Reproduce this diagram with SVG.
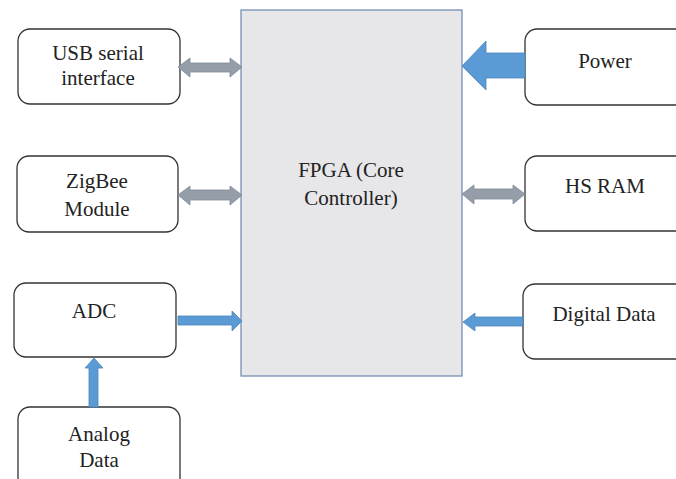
<svg xmlns="http://www.w3.org/2000/svg" width="676" height="479" viewBox="0 0 676 479">
<style>
.box{fill:#fff;stroke:#333;stroke-width:1.3}
.core{fill:#e7e6e8;stroke:#7390b3;stroke-width:1.3}
.t{font-size:21px;fill:#222;text-anchor:middle}
.blue{fill:#5b9bd5;stroke:#4a86bd;stroke-width:0.8}
.gray{fill:#959ea8;stroke:#7f8b97;stroke-width:0.8}
</style>
<rect width="676" height="479" fill="#fff"/>
<g font-family="Liberation Serif, DejaVu Serif, serif">
<g id="fpga">
<rect class="core" x="241" y="10" width="221" height="366"/>
<text class="t" x="351" y="177">FPGA (Core</text>
<text class="t" x="351" y="205">Controller)</text>
</g>
<g id="usb">
<rect class="box" x="18" y="29" width="162" height="75" rx="12"/>
<text class="t" x="98" y="60">USB serial</text>
<text class="t" x="98" y="85">interface</text>
</g>
<g id="zigbee">
<rect class="box" x="17" y="156" width="161" height="76" rx="12"/>
<text class="t" x="97" y="188">ZigBee</text>
<text class="t" x="97" y="216">Module</text>
</g>
<g id="adc">
<rect class="box" x="14" y="283" width="162" height="74" rx="12"/>
<text class="t" x="94" y="318">ADC</text>
</g>
<g id="analog">
<rect class="box" x="18" y="407" width="162" height="85" rx="12"/>
<text class="t" x="99" y="441">Analog</text>
<text class="t" x="99" y="467">Data</text>
</g>
<g id="power">
<rect class="box" x="525" y="29" width="170" height="76" rx="12"/>
<text class="t" x="605" y="68">Power</text>
</g>
<g id="hsram">
<rect class="box" x="525" y="156" width="170" height="75" rx="12"/>
<text class="t" x="605" y="193">HS RAM</text>
</g>
<g id="digital">
<rect class="box" x="523" y="284" width="170" height="75" rx="12"/>
<text class="t" x="604" y="321">Digital Data</text>
</g>
</g>
<g id="connectors">
<polygon class="gray" points="178,67 190,58 190,63 230,63 230,58 242,67 230,77 230,72 190,72 190,77"/>
<polygon class="gray" points="178,195 190,186 190,190 230,190 230,186 242,195 230,205 230,200 190,200 190,205"/>
<polygon class="gray" points="462,194 474,185 474,189 513,189 513,185 525,194 513,204 513,199 474,199 474,204"/>
<polygon class="blue" points="462,66 486,41 486,53 525,53 525,78 486,78 486,90"/>
<polygon class="blue" points="178,316 232,316 232,311 242,321 232,331 232,325 178,325"/>
<polygon class="blue" points="463,322 475,313 475,317 523,317 523,326 475,326 475,331"/>
<polygon class="blue" points="94,358 103,368 98,368 98,407 89,407 89,368 85,368"/>
</g>
</svg>
